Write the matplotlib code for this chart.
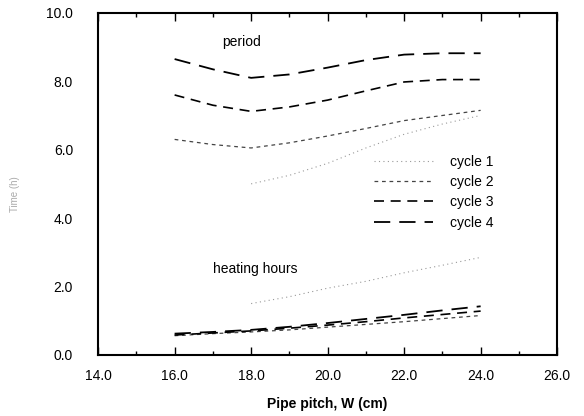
import numpy as np
import matplotlib
matplotlib.use("Agg")
import matplotlib.pyplot as plt

plt.rcParams['font.family'] = ['Liberation Sans', 'DejaVu Sans']

# pipe pitch W (cm)
pitch = [16, 17, 18, 19, 20, 21, 22, 23, 24]
pitch_c1 = [18, 19, 20, 21, 22, 23, 24]

# period
period_c4 = [8.65, 8.35, 8.1, 8.2, 8.4, 8.62, 8.78, 8.82, 8.82]
period_c3 = [7.6, 7.3, 7.12, 7.25, 7.45, 7.72, 7.98, 8.05, 8.05]
period_c2 = [6.3, 6.15, 6.05, 6.2, 6.4, 6.62, 6.85, 7.0, 7.15]
period_c1 = [5.0, 5.25, 5.6, 6.05, 6.45, 6.75, 7.0]

# heating hours
heat_c4 = [0.62, 0.67, 0.73, 0.82, 0.93, 1.05, 1.17, 1.3, 1.42]
heat_c3 = [0.58, 0.64, 0.7, 0.78, 0.87, 0.97, 1.08, 1.18, 1.28]
heat_c2 = [0.56, 0.62, 0.67, 0.73, 0.81, 0.89, 0.97, 1.06, 1.15]
heat_c1 = [1.5, 1.7, 1.95, 2.15, 2.4, 2.62, 2.85]

labels = ['cycle 1', 'cycle 2', 'cycle 3', 'cycle 4']

fig = plt.figure(figsize=(5.84, 4.16), dpi=100)
ax = fig.add_axes([0.168, 0.147, 0.786, 0.822])

st1 = dict(color='#999999', lw=0.8, dashes=(1, 3))
st2 = dict(color='#444444', lw=0.9, dashes=(3, 3))
st3 = dict(color='black', lw=1.2, dashes=(6, 4))
st4 = dict(color='black', lw=1.3, dashes=(9, 5))

ax.plot(pitch_c1, period_c1, label=labels[0], **st1)
ax.plot(pitch, period_c2, label=labels[1], **st2)
ax.plot(pitch, period_c3, label=labels[2], **st3)
ax.plot(pitch, period_c4, label=labels[3], **st4)

ax.plot(pitch_c1, heat_c1, **st1)
ax.plot(pitch, heat_c2, **st2)
ax.plot(pitch, heat_c3, **st3)
ax.plot(pitch, heat_c4, **st4)

ax.text(17.75, 9.15, 'period', fontsize=10, ha='center', va='center')
ax.text(17.0, 2.5, 'heating hours', fontsize=10, ha='left', va='center')

ax.set_xlim(14, 26)
ax.set_ylim(0, 10)
ax.set_xticks(np.arange(14, 27, 2))
ax.set_xticks(np.arange(14, 27, 1), minor=True)
ax.set_xticklabels(['%.1f' % v for v in np.arange(14, 27, 2)])
ax.set_yticks(np.arange(0, 11, 2))
ax.set_yticklabels(['%.1f' % v for v in np.arange(0, 11, 2)])
ax.tick_params(axis='x', which='both', direction='in', top=True, labelsize=10, pad=10)
ax.tick_params(axis='x', which='major', length=6, width=1)
ax.tick_params(axis='x', which='minor', length=3, width=1)
ax.tick_params(axis='y', direction='in', length=0, labelsize=10, pad=18)
for s in ax.spines.values():
    s.set_linewidth(1.5)

ax.set_xlabel('Pipe pitch, W (cm)', fontsize=10, fontweight='bold', labelpad=10)
ax.set_ylabel('Time (h)', fontsize=7, color='#aaaaaa')
ax.yaxis.set_label_coords(-0.17, 0.47)

ax.legend(frameon=False, loc='upper left', bbox_to_anchor=(0.6, 0.585),
          borderpad=0, borderaxespad=0, handlelength=4.3, handletextpad=1.2,
          labelspacing=0.45, fontsize=10)

fig.savefig('out.png', dpi=100)
